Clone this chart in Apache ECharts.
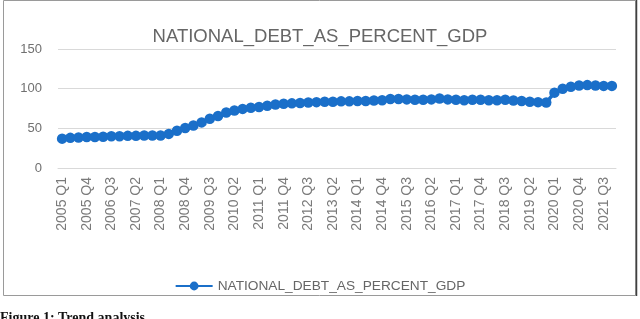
<!DOCTYPE html>
<html>
<head>
<meta charset="utf-8">
<script src="https://cdn.jsdelivr.net/npm/echarts@6/dist/echarts.min.js"></script>
<style>
html,body{margin:0;padding:0;background:#fff;}
#c{width:640px;height:319px;}
</style>
</head>
<body>
<div id="c"></div>
<script>
var quarters = [
 "2005 Q1","2005 Q2","2005 Q3","2005 Q4",
 "2006 Q1","2006 Q2","2006 Q3","2006 Q4",
 "2007 Q1","2007 Q2","2007 Q3","2007 Q4",
 "2008 Q1","2008 Q2","2008 Q3","2008 Q4",
 "2009 Q1","2009 Q2","2009 Q3","2009 Q4",
 "2010 Q1","2010 Q2","2010 Q3","2010 Q4",
 "2011 Q1","2011 Q2","2011 Q3","2011 Q4",
 "2012 Q1","2012 Q2","2012 Q3","2012 Q4",
 "2013 Q1","2013 Q2","2013 Q3","2013 Q4",
 "2014 Q1","2014 Q2","2014 Q3","2014 Q4",
 "2015 Q1","2015 Q2","2015 Q3","2015 Q4",
 "2016 Q1","2016 Q2","2016 Q3","2016 Q4",
 "2017 Q1","2017 Q2","2017 Q3","2017 Q4",
 "2018 Q1","2018 Q2","2018 Q3","2018 Q4",
 "2019 Q1","2019 Q2","2019 Q3","2019 Q4",
 "2020 Q1","2020 Q2","2020 Q3","2020 Q4",
 "2021 Q1","2021 Q2","2021 Q3","2021 Q4"
];
var debtPct = [
 37, 38, 38.5, 39,
 39, 39.5, 40, 40,
 40.5, 40.5, 41, 41,
 41, 43, 47, 50.5,
 53.5, 57.5, 62, 65.5,
 70, 72.5, 74.5, 76,
 77, 78.5, 80, 81,
 81.5, 82, 82.5, 83,
 83.5, 83.5, 84, 84,
 84.5, 84.5, 85, 85.5,
 87, 87, 86.5, 86,
 86, 86.5, 87.5, 86.5,
 86, 85.5, 86, 86,
 85.5, 85.5, 86, 85,
 84.5, 83.5, 83, 82.5,
 95, 100, 102.5, 104,
 104.5, 104, 103.5, 103.5
];
var yTicks = [0, 50, 100, 150];
var seriesName = "NATIONAL_DEBT_AS_PERCENT_GDP";
var titleText = "NATIONAL_DEBT_AS_PERCENT_GDP";
var captionText = "Figure 1: Trend analysis";

var chart = echarts.init(document.getElementById('c'), null, {renderer:'canvas'});
var font = '"Liberation Sans", Arial, sans-serif';
chart.setOption({
  animation: false,
  backgroundColor: '#ffffff',
  title: {
    text: titleText, left: 'center', top: 22,
    textStyle: {fontFamily: font, fontSize: 18.5, fontWeight: 'normal', color: '#666666'}
  },
  legend: {
    data: [seriesName], left: 'center', top: 274,
    itemWidth: 37, itemHeight: 11,
    textStyle: {fontFamily: font, fontSize: 13.7, color: '#666666'}
  },
  grid: {left: 58, right: 24, top: 49, bottom: 151, containLabel: false},
  xAxis: {
    type: 'category', data: quarters, boundaryGap: true,
    axisLine: {show: true, lineStyle: {color: '#d9d9d9'}},
    axisTick: {show: false},
    axisLabel: {interval: 2, rotate: 90, margin: 9, fontFamily: font, fontSize: 14, color: '#7a7a7a'}
  },
  yAxis: {
    type: 'value', min: yTicks[0], max: yTicks[yTicks.length-1], interval: 50,
    axisLine: {show: false}, axisTick: {show: false},
    splitLine: {lineStyle: {color: '#d9d9d9', width: 1}},
    axisLabel: {margin: 16, fontFamily: font, fontSize: 13, color: '#707070'}
  },
  series: [{
    name: seriesName, type: 'line', data: debtPct,
    symbol: 'circle', symbolSize: 10.5, showSymbol: true, showAllSymbol: true,
    lineStyle: {color: '#1a6fc9', width: 3.5},
    itemStyle: {color: '#1a6fc9'}
  }],
  graphic: [
    {type: 'rect', shape: {x: 3.5, y: 0.5, width: 632, height: 295},
     style: {fill: 'none', stroke: '#9a9a9a', lineWidth: 1}, silent: true},
    {type: 'line', shape: {x1: 636.5, y1: 0, x2: 636.5, y2: 296},
     style: {stroke: '#404040', lineWidth: 1.5}, silent: true},
    {type: 'text', left: 0, top: 311,
     style: {text: captionText, font: 'bold 14px "Liberation Serif", serif', fill: '#111'}}
  ]
});
</script>
</body>
</html>
